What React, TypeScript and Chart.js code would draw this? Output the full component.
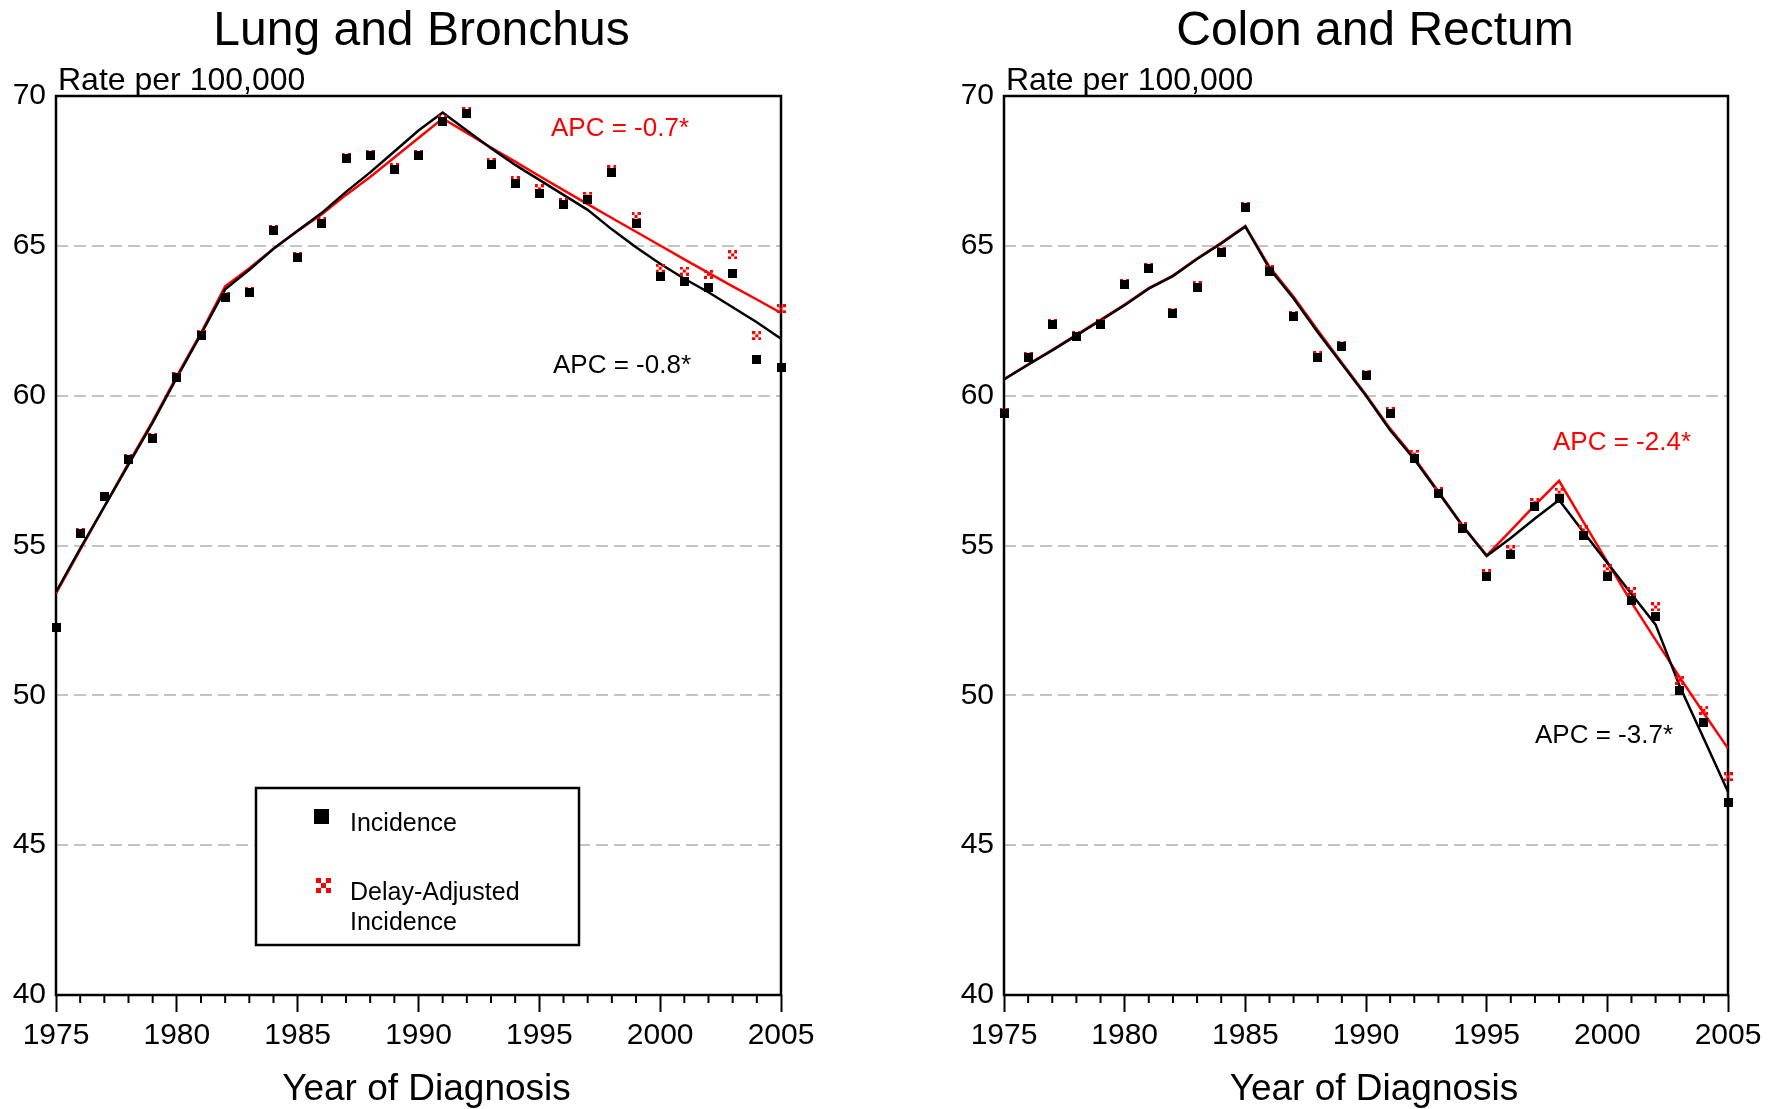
import React, { useEffect, useRef } from "react";
import { Chart, registerables } from "chart.js";

Chart.register(...registerables);

const FONT = "'Liberation Sans', Arial, Helvetica, sans-serif";

// ---------- DATA ----------
const years = [
  1975, 1976, 1977, 1978, 1979, 1980, 1981, 1982, 1983, 1984, 1985, 1986, 1987, 1988, 1989, 1990,
  1991, 1992, 1993, 1994, 1995, 1996, 1997, 1998, 1999, 2000, 2001, 2002, 2003, 2004, 2005,
];
const yTicks = [40, 45, 50, 55, 60, 65, 70];
const xTickLabels = [1975, 1980, 1985, 1990, 1995, 2000, 2005];

const lungIncidence = [
  52.25, 55.4, 56.62, 57.88, 58.58, 60.6, 62.0, 63.28, 63.44, 65.5, 64.6, 65.76, 67.9, 68.0, 67.55, 68.0,
  69.15, 69.42, 67.72, 67.09, 66.75, 66.38, 66.56, 67.46, 65.75, 63.97, 63.82, 63.61, 64.07, 61.2, 60.93,
];
const lungDelayAdjusted = [
  52.28, 55.43, 56.65, 57.9, 58.6, 60.63, 62.03, 63.31, 63.47, 65.53, 64.63, 65.8, 67.95, 68.04, 67.6, 68.05,
  69.2, 69.47, 67.78, 67.17, 66.9, 66.44, 66.66, 67.55, 65.98, 64.25, 64.16, 64.05, 64.7, 62.0, 62.9,
];
const lungFitIncidence = [
  53.45, 54.9, 56.3, 57.7, 59.1, 60.6, 62.05, 63.55, 64.2, 64.9, 65.5, 66.1, 66.8, 67.45, 68.15, 68.85,
  69.45, 68.85, 68.26, 67.7, 67.2, 66.7, 66.2, 65.55, 64.95, 64.4, 63.9, 63.45, 62.95, 62.45, 61.9,
];
const lungFitDelayAdjusted = [
  53.4, 54.85, 56.3, 57.75, 59.15, 60.65, 62.1, 63.65, 64.25, 64.9, 65.5, 66.05, 66.7, 67.3, 67.95, 68.6,
  69.25, 68.77, 68.28, 67.81, 67.33, 66.86, 66.39, 65.93, 65.47, 65.01, 64.55, 64.1, 63.65, 63.21, 62.76,
];

const colonIncidence = [
  59.42, 61.29, 62.37, 61.99, 62.37, 63.71, 64.24, 62.73, 63.62, 64.78, 66.28, 64.15, 62.63, 61.29, 61.64, 60.67,
  59.42, 57.91, 56.74, 55.57, 53.97, 54.7, 56.31, 56.57, 55.32, 53.96, 53.16, 52.64, 50.15, 49.09, 46.41,
];
const colonDelayAdjusted = [
  59.45, 61.32, 62.4, 62.02, 62.4, 63.74, 64.27, 62.76, 63.66, 64.82, 66.32, 64.2, 62.68, 61.33, 61.69, 60.72,
  59.48, 58.05, 56.8, 55.63, 54.07, 54.85, 56.43, 56.78, 55.52, 54.22, 53.47, 52.95, 50.5, 49.5, 47.28,
];
const colonFitIncidence = [
  60.54, 61.03, 61.51, 62.01, 62.51, 63.02, 63.57, 63.99, 64.56, 65.08, 65.64, 64.24, 63.24, 62.12, 61.06, 60.0,
  58.85, 57.88, 56.77, 55.65, 54.65, 55.25, 55.9, 56.52, 55.46, 54.42, 53.38, 52.36, 50.3, 48.55, 46.78,
];
const colonFitDelayAdjusted = [
  60.55, 61.05, 61.53, 62.03, 62.53, 63.04, 63.59, 64.01, 64.58, 65.1, 65.66, 64.3, 63.3, 62.18, 61.1, 60.03,
  58.9, 57.93, 56.8, 55.67, 54.67, 55.5, 56.35, 57.16, 55.8, 54.45, 53.1, 51.85, 50.6, 49.4, 48.23,
];

// ---------- PANELS ----------
type Note = { text: string; color: string; x: number; y: number };
type Panel = {
  title: string;
  inc: number[];
  delay: number[];
  fitInc: number[];
  fitDelay: number[];
  padLeft: number;
  padRight: number;
  titleShift: number;
  notes: Note[];
  legend: boolean;
};

const panels: Panel[] = [
  {
    title: "Lung and Bronchus",
    inc: lungIncidence,
    delay: lungDelayAdjusted,
    fitInc: lungFitIncidence,
    fitDelay: lungFitDelayAdjusted,
    padLeft: 0,
    padRight: 109,
    titleShift: 3,
    notes: [
      { text: "APC = -0.7*", color: "#ff0000", x: 551, y: 136 },
      { text: "APC = -0.8*", color: "#000000", x: 553, y: 373 },
    ],
    legend: true,
  },
  {
    title: "Colon and Rectum",
    inc: colonIncidence,
    delay: colonDelayAdjusted,
    fitInc: colonFitIncidence,
    fitDelay: colonFitDelayAdjusted,
    padLeft: 58,
    padRight: 52,
    titleShift: 9,
    notes: [
      { text: "APC = -2.4*", color: "#ff0000", x: 663, y: 450 },
      { text: "APC = -3.7*", color: "#000000", x: 645, y: 743 },
    ],
    legend: false,
  },
];

const W = 890;
const H = 1109;
const TOP = 96;
const XAXIS_H = 114;

function squareMarker(size: number, color: string) {
  const c = document.createElement("canvas");
  c.width = size;
  c.height = size;
  const g = c.getContext("2d")!;
  g.fillStyle = color;
  g.fillRect(0, 0, size, size);
  return c;
}

function checkerMarker(cell: number, color: string) {
  const c = document.createElement("canvas");
  c.width = cell * 3;
  c.height = cell * 3;
  const g = c.getContext("2d")!;
  g.fillStyle = color;
  const cells = [
    [0, 0],
    [2, 0],
    [1, 1],
    [0, 2],
    [2, 2],
  ];
  cells.forEach(([i, j]) => g.fillRect(i * cell, j * cell, cell, cell));
  return c;
}

function decorPlugin(panel: Panel) {
  return {
    id: "decor",
    beforeDatasetsDraw(chart: any) {
      const { ctx, chartArea: a } = chart;
      const xs = chart.scales.x;
      ctx.save();
      ctx.strokeStyle = "#000";
      ctx.lineWidth = 2.5;
      ctx.strokeRect(a.left, a.top, a.right - a.left, a.bottom - a.top);
      ctx.lineWidth = 2;
      ctx.beginPath();
      years.forEach((yr) => {
        if (yr % 5 !== 0) {
          const px = xs.getPixelForValue(yr);
          ctx.moveTo(px, a.bottom);
          ctx.lineTo(px, a.bottom + 8);
        }
      });
      ctx.stroke();
      ctx.restore();
    },
    afterDraw(chart: any) {
      const { ctx, chartArea: a } = chart;
      const cx = (a.left + a.right) / 2;
      ctx.save();
      ctx.fillStyle = "#000";
      ctx.textBaseline = "alphabetic";
      // Title
      ctx.font = `48px ${FONT}`;
      ctx.textAlign = "center";
      ctx.fillText(panel.title, cx + panel.titleShift, 45);
      // Axis titles
      ctx.font = `37px ${FONT}`;
      ctx.fillText("Year of Diagnosis", cx + 8, 1100);
      ctx.textAlign = "left";
      ctx.font = `32px ${FONT}`;
      ctx.fillText("Rate per 100,000", a.left + 2, 90);
      // APC notes
      ctx.font = `26px ${FONT}`;
      panel.notes.forEach((n) => {
        ctx.fillStyle = n.color;
        ctx.fillText(n.text, n.x, n.y);
      });
      // Legend
      if (panel.legend) {
        const bx = 256, by = 788, bw = 323, bh = 157;
        ctx.fillStyle = "#fff";
        ctx.fillRect(bx, by, bw, bh);
        ctx.strokeStyle = "#000";
        ctx.lineWidth = 2.5;
        ctx.strokeRect(bx, by, bw, bh);
        ctx.fillStyle = "#000";
        ctx.fillRect(314, 809, 15, 15);
        ctx.drawImage(checkerMarker(5, "#ff0000"), 316, 878);
        ctx.fillStyle = "#000";
        ctx.font = `25px ${FONT}`;
        ctx.fillText("Incidence", 350, 831);
        ctx.fillText("Delay-Adjusted", 350, 900);
        ctx.fillText("Incidence", 350, 930);
      }
      ctx.restore();
    },
  };
}

function PanelChart({ panel, left }: { panel: Panel; left: number }) {
  const ref = useRef<HTMLCanvasElement | null>(null);
  useEffect(() => {
    if (!ref.current) return;
    const pts = (arr: number[]) => years.map((x, i) => ({ x, y: arr[i] }));
    const chart = new Chart(ref.current, {
      type: "line",
      data: {
        datasets: [
          {
            label: "Delay-Adjusted fit",
            data: pts(panel.fitDelay),
            borderColor: "#ff0000",
            borderWidth: 2.5,
            pointRadius: 0,
            tension: 0,
            order: 4,
          },
          {
            label: "Incidence fit",
            data: pts(panel.fitInc),
            borderColor: "#000000",
            borderWidth: 2.5,
            pointRadius: 0,
            tension: 0,
            order: 3,
          },
          {
            label: "Delay-Adjusted Incidence",
            data: pts(panel.delay),
            showLine: false,
            pointStyle: checkerMarker(3, "#ff0000") as any,
            pointRadius: 5,
            clip: false as any,
            order: 2,
          },
          {
            label: "Incidence",
            data: pts(panel.inc),
            showLine: false,
            pointStyle: squareMarker(9, "#000000") as any,
            pointRadius: 5,
            clip: false as any,
            order: 1,
          },
        ],
      } as any,
      options: {
        responsive: false,
        animation: false,
        devicePixelRatio: 1,
        layout: { padding: { left: panel.padLeft, right: panel.padRight, top: TOP, bottom: 0 } },
        plugins: { legend: { display: false }, tooltip: { enabled: false }, title: { display: false } },
        scales: {
          x: {
            type: "linear",
            min: years[0],
            max: years[years.length - 1],
            afterBuildTicks: (s: any) => {
              s.ticks = xTickLabels.map((v) => ({ value: v }));
            },
            ticks: {
              padding: 6,
              color: "#000",
              font: { family: FONT, size: 30 },
              maxRotation: 0,
              autoSkip: false,
              callback: (v: any) => String(v),
            },
            grid: {
              display: true,
              drawOnChartArea: false,
              drawTicks: true,
              tickLength: 17,
              tickColor: "#000",
              tickWidth: 2,
              color: "#000",
            },
            border: { display: false },
            afterFit: (s: any) => {
              s.height = XAXIS_H;
              s.paddingLeft = 0;
              s.paddingRight = 0;
            },
          },
          y: {
            min: yTicks[0],
            max: yTicks[yTicks.length - 1],
            afterBuildTicks: (s: any) => {
              s.ticks = yTicks.map((v) => ({ value: v }));
            },
            ticks: {
              padding: 10,
              color: "#000",
              font: { family: FONT, size: 30 },
              callback: (v: any) => String(v),
            },
            grid: {
              drawTicks: false,
              lineWidth: 2,
              color: (c: any) =>
                c.tick && (c.tick.value === yTicks[0] || c.tick.value === yTicks[yTicks.length - 1])
                  ? "rgba(0,0,0,0)"
                  : "#c4c4c4",
            },
            border: { display: false, dash: [12, 6] },
            afterFit: (s: any) => {
              s.width = 56;
            },
          },
        },
      } as any,
      plugins: [decorPlugin(panel)],
    });
    return () => chart.destroy();
  }, [panel]);
  return (
    <canvas
      ref={ref}
      width={W}
      height={H}
      style={{ position: "absolute", left, top: 0, width: W, height: H }}
    />
  );
}

export default function App() {
  return (
    <div
      style={{
        position: "absolute",
        left: 0,
        top: 0,
        width: 1780,
        height: 1109,
        background: "#fff",
        overflow: "hidden",
      }}
    >
      <PanelChart panel={panels[0]} left={0} />
      <PanelChart panel={panels[1]} left={W} />
    </div>
  );
}
